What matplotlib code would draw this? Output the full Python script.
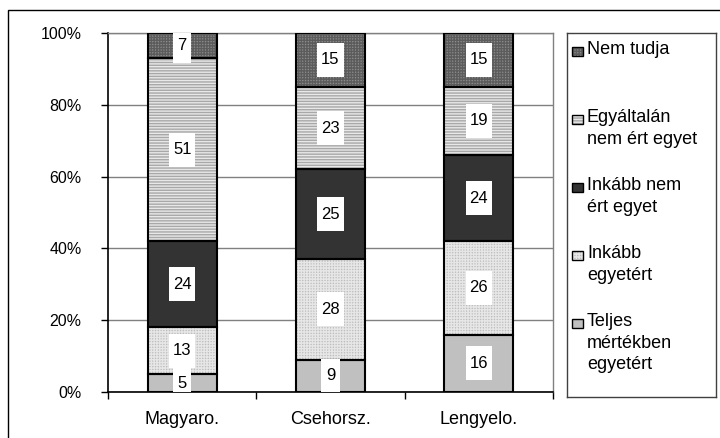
import numpy as np
import matplotlib.pyplot as plt
from matplotlib.patches import Rectangle

plt.rcParams['font.family'] = ['Liberation Sans', 'DejaVu Sans']
plt.rcParams['hatch.linewidth'] = 1.0

categories = ['Magyaro.', 'Csehorsz.', 'Lengyelo.']
series_names = ['Teljes\nmértékben\negyetért', 'Inkább\negyetért', 'Inkább nem\nért egyet',
                'Egyáltalán\nnem ért egyet', 'Nem tudja']
values = {
    'Teljes\nmértékben\negyetért': [5, 9, 16],
    'Inkább\negyetért': [13, 28, 26],
    'Inkább nem\nért egyet': [24, 25, 24],
    'Egyáltalán\nnem ért egyet': [51, 23, 19],
    'Nem tudja': [7, 15, 15],
}
yticks = [0, 20, 40, 60, 80, 100]

# face colour, hatch, hatch colour
styles = {
    'Teljes\nmértékben\negyetért': ('#c0c0c0', None, '#c0c0c0'),
    'Inkább\negyetért': ('#bdbdbd', '++++++', '#e6e6e6'),
    'Inkább nem\nért egyet': ('#333333', None, '#333333'),
    'Egyáltalán\nnem ért egyet': ('#e8e8e8', '------', '#a8a8a8'),
    'Nem tudja': ('#8c8c8c', '++++++', '#5c5c5c'),
}

fig = plt.figure(figsize=(7.2, 4.38), dpi=100)
# outer chart border
fig.patches.append(Rectangle((8 / 720, -0.1), 1.2, 1 - 10.5 / 438 + 0.1, transform=fig.transFigure,
                             fill=False, edgecolor='black', linewidth=1))

ax = fig.add_axes([108 / 720, 46 / 438, 445 / 720, 359 / 438])
x = np.arange(len(categories))
bw = 0.465
bottom = np.zeros(len(categories))
for name in series_names:
    v = np.array(values[name], dtype=float)
    fc, hatch, hc = styles[name]
    ax.bar(x, v, bw, bottom=bottom, color=fc, edgecolor=hc, hatch=hatch, linewidth=0, zorder=2)
    ax.bar(x, v, bw, bottom=bottom, fill=False, edgecolor='black', linewidth=1.5, zorder=3)
    centers = bottom + v / 2
    for xi, c, val in zip(x, centers, v):
        lab = str(int(val))
        w = 0.125 if len(lab) == 1 else 0.178
        ax.bar(xi, 9.5, w, bottom=c - 4.75, color='white', linewidth=0, zorder=4)
        ax.text(xi, c, lab, ha='center', va='center', fontsize=12, zorder=5)
    bottom += v

ax.set_xlim(-0.5, 2.5)
ax.set_ylim(0, 100)
ax.set_yticks(yticks)
ax.set_yticklabels([f'{t}%' for t in yticks], fontsize=11.5)
ax.yaxis.grid(True, color='#808080', linewidth=1, zorder=0)
ax.set_axisbelow(True)
ax.set_xticks(x)
ax.set_xticklabels(categories, fontsize=13)
ax.set_xticks(np.arange(-0.5, 3, 1), minor=True)
ax.tick_params(axis='x', which='major', length=0, pad=14)
ax.tick_params(axis='x', which='minor', length=5, direction='out', width=1)
ax.tick_params(axis='y', length=5, direction='out', width=1, pad=14)
ax.spines['top'].set_color('#808080')
ax.spines['right'].set_color('#808080')
for s in ['top', 'right']:
    ax.spines[s].set_linewidth(1)
for s in ['left', 'bottom']:
    ax.spines[s].set_linewidth(1.2)

# legend drawn in its own axes, in pixel units
lax = fig.add_axes([567 / 720, (438 - 397) / 438, 149 / 720, 364 / 438])
lax.set_xlim(0, 149)
lax.set_ylim(364, 0)
lax.set_xticks([])
lax.set_yticks([])
for s in lax.spines.values():
    s.set_color('#404040')
    s.set_linewidth(1)
for i, name in enumerate(series_names[::-1]):
    yc = 18 + i * 68
    fc, hatch, hc = styles[name]
    lax.add_patch(Rectangle((5, yc - 4.5), 11, 9, facecolor=fc, edgecolor=hc, hatch=hatch, linewidth=0))
    lax.add_patch(Rectangle((5, yc - 4.5), 11, 9, fill=False, edgecolor='black', linewidth=1))
    lax.text(20, yc - 10, name, ha='left', va='top', fontsize=13, linespacing=1.35)

fig.savefig('out.png', dpi=100)
